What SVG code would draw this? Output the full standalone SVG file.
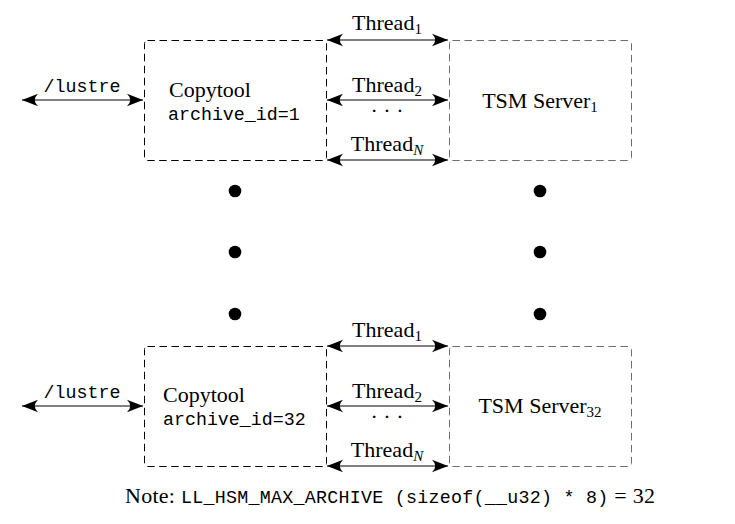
<svg xmlns="http://www.w3.org/2000/svg" width="735" height="524" viewBox="0 0 735 524">
<style>
.box{fill:none;stroke:#000;stroke-width:1;stroke-dasharray:7.5 4.5}
.srv{fill:none;stroke:#6e6e6e;stroke-width:1;stroke-dasharray:7.5 4.5}
.arr{fill:none;stroke:#000;stroke-width:1.2;marker-start:url(#ah);marker-end:url(#ah)}
.rm{font-family:"Liberation Serif","DejaVu Serif",serif;font-size:22px;fill:#000}
.sub{font-size:15px}
.tt{font-family:"Liberation Mono","DejaVu Sans Mono",monospace;font-size:18.3px;fill:#000}
.dot{fill:#000}
</style>
<defs>
<marker id="ah" viewBox="-17 -7 18 14" refX="0" refY="0" markerWidth="18" markerHeight="14" markerUnits="userSpaceOnUse" orient="auto-start-reverse">
<path d="M0,0 L-16,-6.3 Q-9.5,0 -16,6.3 Z" fill="#000"/>
</marker>
</defs>
<g id="connectors">
<line class="arr" x1="22" y1="100" x2="143" y2="100"/>
<line class="arr" x1="327" y1="40" x2="448" y2="40"/>
<line class="arr" x1="327" y1="100" x2="448" y2="100"/>
<line class="arr" x1="327" y1="160" x2="448" y2="160"/>
<line class="arr" x1="22" y1="406" x2="143" y2="406"/>
<line class="arr" x1="327" y1="346" x2="448" y2="346"/>
<line class="arr" x1="327" y1="406" x2="448" y2="406"/>
<line class="arr" x1="327" y1="466" x2="448" y2="466"/>
</g>
<g id="labels">
<text class="tt" x="82" y="92" text-anchor="middle">/lustre</text>
<text class="rm" x="387" y="30" text-anchor="middle">Thread<tspan class="sub" dy="4">1</tspan></text>
<text class="rm" x="387" y="92" text-anchor="middle">Thread<tspan class="sub" dy="4">2</tspan></text>
<text class="rm" x="387" y="118" text-anchor="middle">· · ·</text>
<text class="rm" x="387" y="151" text-anchor="middle">Thread<tspan class="sub" dy="4" font-style="italic">N</tspan></text>
<text class="tt" x="82" y="398" text-anchor="middle">/lustre</text>
<text class="rm" x="387" y="337" text-anchor="middle">Thread<tspan class="sub" dy="4">1</tspan></text>
<text class="rm" x="387" y="398" text-anchor="middle">Thread<tspan class="sub" dy="4">2</tspan></text>
<text class="rm" x="387" y="424" text-anchor="middle">· · ·</text>
<text class="rm" x="387" y="457" text-anchor="middle">Thread<tspan class="sub" dy="4" font-style="italic">N</tspan></text>
</g>
<g id="copytool1">
<rect class="box" x="144.5" y="40.5" width="182" height="120" rx="3"/>
<text class="rm" x="169" y="97">Copytool</text>
<text class="tt" x="168" y="120">archive_id=1</text>
</g>
<g id="server1">
<rect class="srv" x="449.5" y="40.5" width="182" height="120" rx="3"/>
<text class="rm" x="540" y="108" text-anchor="middle">TSM Server<tspan class="sub" dy="4">1</tspan></text>
</g>
<g id="ellipsis">
<circle class="dot" cx="235" cy="191" r="6.3"/>
<circle class="dot" cx="235" cy="252" r="6.3"/>
<circle class="dot" cx="235" cy="314" r="6.3"/>
<circle class="dot" cx="540" cy="191" r="6.3"/>
<circle class="dot" cx="540" cy="252" r="6.3"/>
<circle class="dot" cx="540" cy="314" r="6.3"/>
</g>
<g id="copytool32">
<rect class="box" x="144.5" y="346.5" width="182" height="120" rx="3"/>
<text class="rm" x="163" y="402">Copytool</text>
<text class="tt" x="163" y="425">archive_id=32</text>
</g>
<g id="server32">
<rect class="srv" x="449.5" y="346.5" width="182" height="120" rx="3"/>
<text class="rm" x="540" y="413" text-anchor="middle">TSM Server<tspan class="sub" dy="4">32</tspan></text>
</g>
<g id="note">
<text x="125" y="503" textLength="530" lengthAdjust="spacing"><tspan class="rm">Note: </tspan><tspan class="tt">LL_HSM_MAX_ARCHIVE (sizeof(__u32) * 8)</tspan><tspan class="rm"> = 32</tspan></text>
</g>
</svg>
